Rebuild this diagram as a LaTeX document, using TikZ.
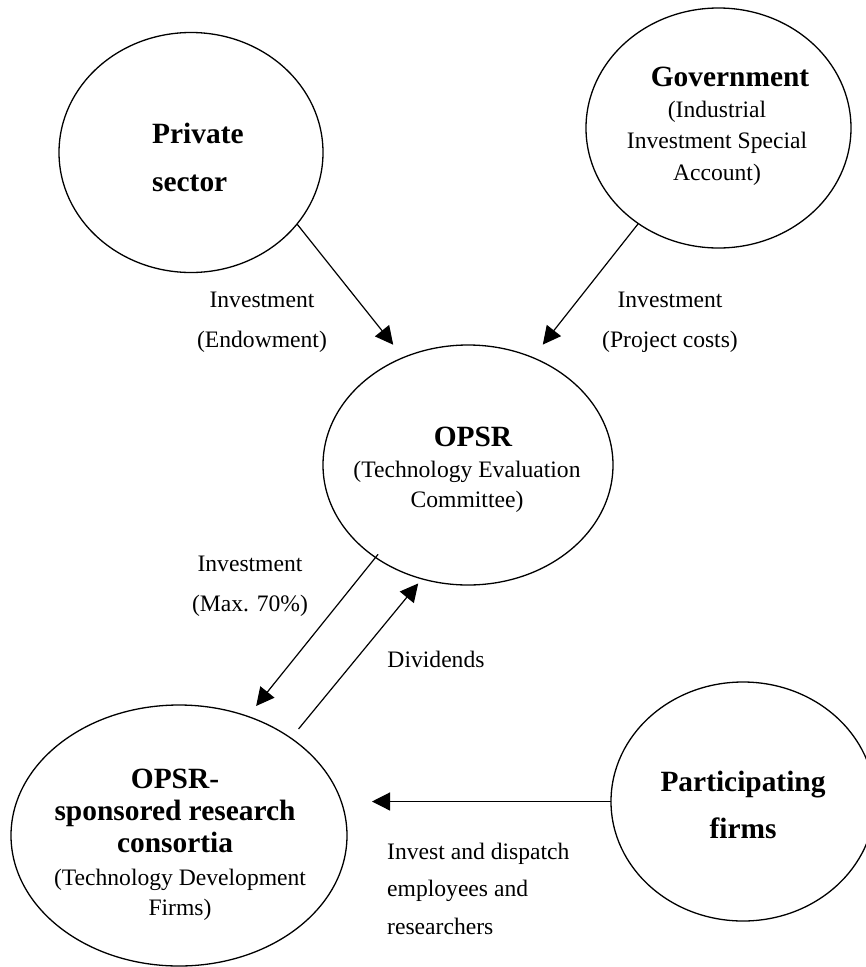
\documentclass[tikz,border=0pt]{standalone}
\usepackage{fontspec}
\setmainfont{Liberation Serif}
\usetikzlibrary{shapes.geometric,arrows.meta}
\tikzset{
  bubble/.style={draw, ellipse, line width=1.3pt, inner sep=0pt, outer sep=0pt},
  flow/.style={line width=1.2pt, -{Triangle[length=18pt,width=18pt]}},
  titletext/.style={font=\fontsize{29.4}{#1}\selectfont\bfseries, inner sep=0pt, align=center, anchor=base},
  subtext/.style={font=\fontsize{23.6}{#1}\selectfont, inner sep=0pt, align=center, anchor=base},
  lbl/.style={font=\fontsize{23.6}{#1}\selectfont, inner sep=0pt, align=center, anchor=base}
}
\begin{document}
\begin{tikzpicture}[x=1pt,y=-1pt]
\useasboundingbox (0,0) rectangle (866,967);

% ellipses
\node[bubble, minimum width=264pt, minimum height=240pt] (priv) at (191,152.5) {};
\node[bubble, minimum width=265pt, minimum height=240pt] (gov) at (718.5,128) {};
\node[bubble, minimum width=290pt, minimum height=240pt] (opsr) at (468,465) {};
\node[bubble, minimum width=336pt, minimum height=261pt] (cons) at (179,835.5) {};
\node[bubble, minimum width=264pt, minimum height=239pt] (part) at (743,801.5) {};

% texts inside ellipses (anchor = baseline of the last line)
\node[titletext=48, align=left, anchor=base west] (privtxt) at (152,191) {Private\\sector};
\node[titletext=31] (govtitle) at (730,86) {Government};
\node[subtext=31.5] (govsub) at (717,180) {(Industrial\\Investment Special\\Account)};
\node[titletext=31] (opsrtitle) at (473,446) {OPSR};
\node[subtext=30] (opsrsub) at (467,507) {(Technology Evaluation\\Committee)};
\node[titletext=32] (constitle) at (175,852) {OPSR-\\sponsored research\\consortia};
\node[subtext=30] (conssub) at (180,915) {(Technology Development\\Firms)};
\node[titletext=47] (parttxt) at (743,838) {Participating\\firms};

% connectors
\draw[flow, shorten >=16.4pt] (priv.-34) -- (opsr.121.3);
\draw[flow, shorten >=16.5pt] (gov.-130.7) -- (opsr.59.6);
\draw[flow, shorten <=-4pt, shorten >=13.4pt] (opsr.-135.4) -- (cons.60.9);
\draw[flow, shorten <=12pt, shorten >=6pt] (cons.41.7) -- (opsr.-112.3);
\draw[flow, shorten >=25pt] (part.west) -- (cons.east |- part.west);

% connector labels
\node[lbl=40] (l1) at (262,347) {Investment\\(Endowment)};
\node[lbl=40] (l2) at (670,347) {Investment\\(Project costs)};
\node[lbl=40] (l3) at (250,611) {Investment\\(Max. 70\%)};
\node[lbl=40] (l4) at (436,667) {Dividends};
\node[lbl=37.5, align=left, anchor=base west] (l5) at (387,934) {Invest and dispatch\\employees and\\researchers};
\end{tikzpicture}
\end{document}
